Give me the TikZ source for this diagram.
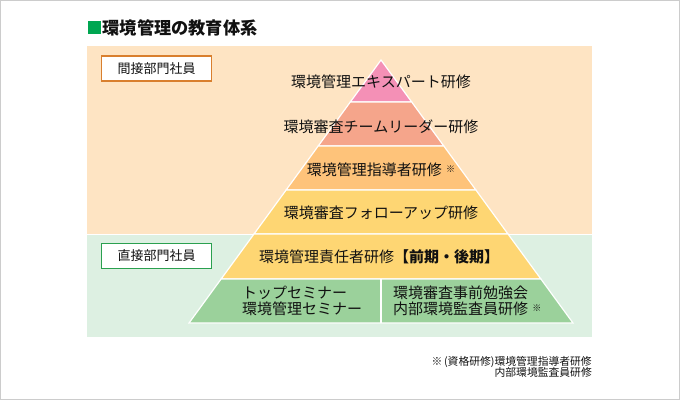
\documentclass[tikz,border=0pt]{standalone}
\usepackage{fontspec}
\setmainfont{Noto Sans CJK JP}
\definecolor{framegray}{HTML}{CCCCCC}
\definecolor{titlegreen}{HTML}{00A651}
\definecolor{peachbg}{HTML}{FEE4C3}
\definecolor{greenbg}{HTML}{DDF0E2}
\definecolor{lpink}{HTML}{F490B6}
\definecolor{lsalmon}{HTML}{F5A58B}
\definecolor{lorange}{HTML}{FEC37A}
\definecolor{lyellow}{HTML}{FED673}
\definecolor{lgreen}{HTML}{9BD19B}
\definecolor{boxorange}{HTML}{D97F2E}
\definecolor{boxgreen}{HTML}{2AA04F}
\definecolor{txt}{HTML}{111111}
\tikzset{
  layer/.style={draw=white, line width=1.2pt, line join=miter},
  lbl/.style={text=txt, font=\fontsize{15}{16}\selectfont, inner sep=0pt},
  cat/.style={draw=#1, fill=white, line width=1.5pt, minimum width=110pt, minimum height=25pt, inner sep=0pt, text=txt, font=\fontsize{13}{14}\selectfont},
  note/.style={text=txt, font=\fontsize{10.8}{11.5}\selectfont, inner sep=0pt, align=right}
}
\begin{document}
\begin{tikzpicture}[x=1pt,y=-1pt]
\useasboundingbox (0,0) rectangle (680,400);
\draw[framegray, line width=1pt] (0.5,0.5) rectangle (679.5,399.5);
% title
\fill[titlegreen] (88,21) rectangle (101,34);
\node[anchor=west, inner sep=0pt, text=txt, font=\fontsize{17.2}{18}\selectfont\bfseries] (title) at (102.5,27.5) {環境管理の教育体系};
% backgrounds
\fill[peachbg] (87,46) rectangle (592,234);
\fill[greenbg] (87,235) rectangle (592,337);
% pyramid layers
\filldraw[layer, fill=lpink]   (381,60) -- (411.7,102) -- (350.3,102) -- cycle;
\filldraw[layer, fill=lsalmon] (350.3,102) -- (411.7,102) -- (443.8,146) -- (318.2,146) -- cycle;
\filldraw[layer, fill=lorange] (318.2,146) -- (443.8,146) -- (475.9,190) -- (286.1,190) -- cycle;
\filldraw[layer, fill=lyellow] (286.1,190) -- (475.9,190) -- (508,234) -- (254,234) -- cycle;
\filldraw[layer, fill=lyellow] (254,234) -- (508,234) -- (540.9,279) -- (221.1,279) -- cycle;
\filldraw[layer, fill=lgreen]  (221.1,279) -- (540.9,279) -- (573,323) -- (189,323) -- cycle;
\draw[white, line width=1.2pt] (381,279) -- (381,323);
% category boxes
\node[cat=boxorange] (indirect) at (156.5,68.5) {間接部門社員};
\node[cat=boxgreen] (direct) at (156.5,256) {直接部門社員};
% layer labels
\node[lbl] (l1) at (381,82) {環境管理エキスパート研修};
\node[lbl] (l2) at (381,127) {環境審査チームリーダー研修};
\node[lbl] (l3) at (381,170) {環境管理指導者研修\;\raisebox{0.45ex}{\fontsize{9}{10}\selectfont ※}};
\node[lbl] (l4) at (381,213) {環境審査フォローアップ研修};
\node[lbl] (l5) at (379,257) {環境管理責任者研修{\bfseries 【前期・後期】}};
\node[lbl, anchor=north west, align=left] (l6a) at (242,286) {トップセミナー\\環境管理セミナー};
\node[lbl, anchor=north west, align=left] (l6b) at (393,286) {環境審査事前勉強会\\内部環境監査員研修\;\raisebox{0.45ex}{\fontsize{9}{10}\selectfont ※}};
% footnote
\node[note, anchor=north east] (fn) at (592,356) {※\,(資格研修)環境管理指導者研修\\内部環境監査員研修};
\end{tikzpicture}
\end{document}
